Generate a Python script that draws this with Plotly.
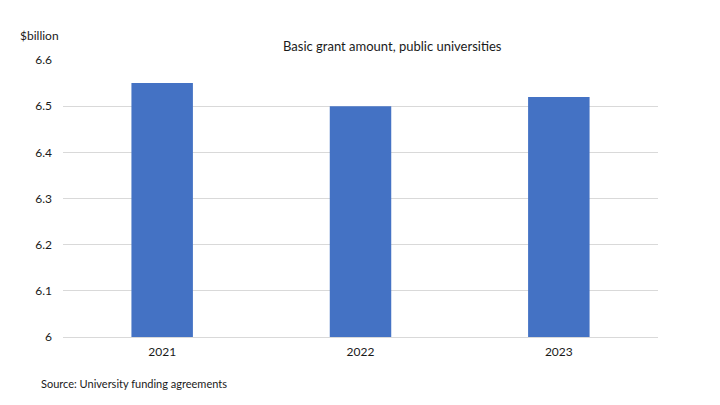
import plotly.graph_objects as go

years = ["2021", "2022", "2023"]
grant_billion = [6.55, 6.50, 6.52]
y_ticks = [6.0, 6.1, 6.2, 6.3, 6.4, 6.5, 6.6]
y_tick_labels = ["6", "6.1", "6.2", "6.3", "6.4", "6.5", "6.6"]

font_family = "Lato, 'Open Sans', sans-serif"

# page offset from body margin
OFF = 8
L, R, T, B = 63 - OFF, 720 - (658 - OFF), 60 - OFF, 405 - (337 - OFF)

fig = go.Figure(go.Bar(x=years, y=grant_billion, marker_color="#4472C4",
                       marker_line_width=0, hoverinfo="x+y"))

fig.update_layout(
    width=720, height=405,
    margin=dict(l=L, r=R, t=T, b=B),
    paper_bgcolor="white", plot_bgcolor="white",
    font=dict(family=font_family, size=12, color="#1a1a1a"),
    bargap=0.69,
    showlegend=False,
    xaxis=dict(showgrid=False, showline=True, linecolor="#d9d9d9", linewidth=1,
               ticks="", tickfont=dict(size=12), ticklabelstandoff=4),
    yaxis=dict(range=[6.0, 6.6], tickvals=y_ticks, ticktext=y_tick_labels,
               showgrid=True, gridcolor="#d9d9d9", gridwidth=1,
               zeroline=False, showline=False, ticks="",
               ticklabelstandoff=10, tickfont=dict(size=12)),
)

pw = 720 - L - R
ph = 405 - T - B
def px(x):
    return (x - OFF - L) / pw
def py(y):
    return 1 - (y - OFF - T) / ph

fig.add_annotation(text="Basic grant amount, public universities",
                   x=px(392), y=py(46), xref="paper", yref="paper",
                   xanchor="center", yanchor="middle", showarrow=False,
                   font=dict(size=13, color="#1a1a1a"))
fig.add_annotation(text="$billion", x=px(18), y=py(35), xref="paper", yref="paper",
                   xanchor="left", yanchor="middle", showarrow=False,
                   font=dict(size=12, color="#1a1a1a"))
fig.add_annotation(text="Source: University funding agreements",
                   x=px(39), y=py(383), xref="paper", yref="paper",
                   xanchor="left", yanchor="middle", showarrow=False,
                   font=dict(size=11, color="#1a1a1a"))

fig.write_html("out.html")
